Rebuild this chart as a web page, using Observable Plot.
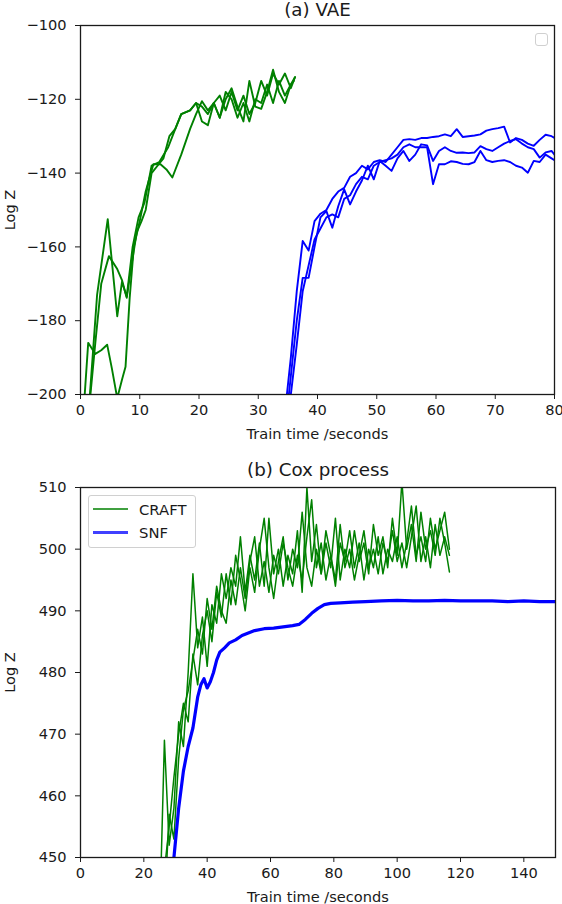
<!DOCTYPE html>
<html>
<head>
<meta charset="utf-8">
<script src="https://cdn.jsdelivr.net/npm/d3@7"></script>
<script src="https://cdn.jsdelivr.net/npm/@observablehq/plot@0.6"></script>
<style>
  body { margin: 0; background: #fff; font-family: "DejaVu Sans", sans-serif; }
  #wrap { position: relative; width: 562px; height: 904px; overflow: hidden; background: #fff; }
  #wrap svg { display: block; }
  .leg { position: absolute; box-sizing: border-box; border: 1px solid #d0d0d0; border-radius: 3px; background: rgba(255,255,255,0.85); }
  .row { position: absolute; left: 0; height: 20px; display: flex; align-items: center; }
  .sw { display: inline-block; width: 35px; margin-left: 4px; margin-right: 11px; }
  .lt { font-family: "DejaVu Sans", sans-serif; font-size: 14.8px; color: #1a1a1a; }
</style>
</head>
<body>
<div id="wrap"></div>
<script>
// ---------- (a) VAE ----------
const vaeXTicks = [0, 10, 20, 30, 40, 50, 60, 70, 80];
const vaeYTicks = [-200, -180, -160, -140, -120, -100];

const vaeCraft1X = [1.5, 2.8, 4.6, 6.2, 7.0, 7.8, 8.8, 9.8, 10.8, 12.0, 13.3, 14.8, 16.0, 17.0, 18.5, 19.5, 20.5, 21.5, 22.5, 23.5, 24.5, 25.5, 26.5, 27.5, 28.5, 29.5, 30.5, 31.5, 32.5, 33.5, 34.5, 35.5, 36.2];
const vaeCraft1Y = [-202, -173, -152.5, -178.8, -169.5, -173.5, -160, -152, -148, -138, -137, -133, -128, -124, -123, -121, -122, -124, -121, -119, -123, -118, -123, -119, -124, -121, -115, -119, -113, -116, -113, -117, -114];

const vaeCraft2X = [0.5, 1.3, 2.5, 3.5, 4.5, 5.3, 6.2, 7.0, 7.6, 8.3, 9.0, 10.0, 11.0, 12.3, 13.5, 14.5, 15.5, 17.0, 18.5, 19.5, 20.5, 21.5, 22.5, 23.5, 24.5, 25.5, 26.5, 27.5, 28.5, 29.5, 30.5, 31.5, 32.5, 33.5, 34.5, 35.5, 36.2];
const vaeCraft2Y = [-205, -186, -189, -188, -186.5, -193, -201, -196, -192.5, -173.8, -160, -153, -145, -137.6, -137.6, -139, -141.2, -135, -128, -124, -120.5, -123, -121, -125, -118, -120, -125, -121, -126, -120, -121, -116, -121, -115, -119, -116, -114];

const vaeCraft3X = [1.5, 2.5, 3.5, 4.8, 6.2, 7.0, 7.8, 8.6, 9.5, 10.3, 11.0, 12.0, 13.0, 14.0, 15.0, 16.0, 17.0, 18.5, 19.5, 20.5, 21.5, 22.5, 23.5, 24.5, 25.5, 26.5, 27.5, 28.5, 29.5, 30.5, 31.5, 32.5, 33.5, 34.5, 35.5, 36.0];
const vaeCraft3Y = [-203, -186, -170, -162.5, -166, -169, -173.8, -165, -156, -153, -150, -140, -138, -136, -130, -128, -124, -123, -121, -126, -127, -121, -125, -120, -117, -122, -126, -115, -122, -122.6, -118, -112, -118, -121, -116, -115];

const vaeSnfX = [34.5, 35.5, 36.5, 37.5, 38.5, 39.5, 40.5, 41.5, 42.5, 43.5, 44.5, 45.5, 46.5, 47.5, 48.5, 49.5, 50.5, 51.5, 52.5, 53.5, 54.5, 55.5, 56.5, 57.5, 58.5, 59.5, 60.5, 61.5, 62.5, 63.5, 64.5, 65.5, 66.5, 67.5, 68.5, 69.5, 70.5, 71.5, 72.5, 73.5, 74.5, 75.5, 76.5, 77.5, 78.5, 79.5, 80];
const vaeSnf1Y = [-205, -190, -172, -158.4, -161, -153, -151, -150, -147, -145, -144, -141, -140, -138, -139, -137, -136.5, -137, -135, -133, -131, -130.8, -131, -130.5, -130.5, -130.2, -130, -129.5, -130, -128.1, -130.2, -130, -129.8, -129.5, -128.5, -128.1, -127.8, -127.4, -131.7, -130.5, -131, -132, -132.6, -131, -129.6, -130, -130.5];
const vaeSnf2Y = [-210, -195, -180, -168.4, -168.4, -160, -152, -150.3, -154.8, -149, -144.4, -148.5, -145, -142, -138, -141.7, -136.7, -138, -139.4, -136, -134, -136.7, -135, -132.2, -132.5, -136.7, -134, -133, -134, -134.5, -134.4, -134.6, -134.4, -132.7, -133.5, -134, -133, -132, -131.3, -130.8, -132, -133, -133.5, -135.8, -134.4, -134, -135];
const vaeSnf3Y = [-215, -200, -186.5, -172, -165, -158, -155, -152, -151.2, -152, -147, -146, -143, -141, -141.7, -138, -137, -136.5, -136, -135, -133, -132.2, -133, -133, -133, -143, -137.6, -137.6, -136.8, -137, -137.5, -137.6, -137, -134, -136.5, -137, -136.7, -136.5, -137, -138, -138.5, -139.9, -136.7, -137, -135, -136, -136.5];

// ---------- (b) Cox process ----------
const coxXTicks = [0, 20, 40, 60, 80, 100, 120, 140];
const coxYTicks = [450, 460, 470, 480, 490, 500, 510];

const coxCraftT = [25, 26.5, 28, 29.5, 31, 32.5, 34, 35.5, 37, 38.5, 40, 41.5, 43, 44.5, 46, 47.5, 49, 50.5, 52, 53.5, 55, 56.5, 58, 59.5, 61, 62.5, 64, 65.5, 67, 68.5, 70, 71.5, 73, 74.5, 76, 77.5, 79, 80.5, 82, 83.5, 85, 86.5, 88, 89.5, 91, 92.5, 94, 95.5, 97, 98.5, 100, 101.5, 103, 104.5, 106, 107.5, 109, 110.5, 112, 113.5, 115, 116.5];
const coxCraft1 = [440, 469, 452, 458, 472, 468, 480, 496, 484, 489, 481, 491, 488, 496, 492, 497, 494, 502, 493, 499, 495, 501, 494, 505, 496, 500, 494, 499, 496, 503, 493, 510, 498, 504, 496, 501, 497, 505, 495, 500, 497, 503, 498, 501, 496, 504, 499, 502, 497, 505, 499, 511, 500, 504, 498, 506, 500, 503, 499, 505, 501, 496.3];
const coxCraft2 = [435, 448, 455, 463, 470, 475, 472, 483, 478, 486, 490, 485, 493, 489, 496, 491, 499, 495, 490, 497, 493, 500, 505, 497, 492, 498, 502, 495, 500, 497, 506, 497, 494, 500, 496, 503, 499, 494, 501, 498, 503, 497, 501, 495, 500, 497, 502, 496, 500, 498, 502, 497, 501, 507, 499, 502, 498, 505, 500, 503, 506, 500];
const coxCraft3 = [438, 442, 457, 453, 466, 474, 477, 482, 487, 483, 492, 487, 494, 490, 488, 495, 491, 497, 492, 498, 502, 494, 498, 493, 499, 496, 501, 497, 494, 499, 495, 502, 508, 497, 501, 495, 499, 495, 504, 497, 500, 495, 499, 503, 497, 500, 496, 501, 498, 503, 498, 501, 497, 502, 507, 498, 502, 497, 504, 499, 502, 499];

const coxSnfX = [29.5, 31, 32.5, 34, 35.5, 37, 38, 39, 40, 41, 42, 43, 44, 45.5, 47, 49, 51, 53, 55, 58, 61, 64, 67, 69, 71, 73, 75, 77, 79, 82, 86, 90, 95, 100, 105, 110, 115, 120, 125, 130, 135, 140, 145, 150];
const coxSnfY = [450, 458, 464, 468, 471, 476, 478, 479, 477.5, 478.5, 480, 482, 483.3, 484, 484.8, 485.3, 486, 486.4, 486.8, 487.1, 487.2, 487.4, 487.6, 487.8, 488.6, 489.6, 490.4, 491, 491.2, 491.3, 491.4, 491.5, 491.6, 491.7, 491.6, 491.6, 491.7, 491.6, 491.6, 491.6, 491.5, 491.6, 491.5, 491.5];

const GREEN = "#008000";
const BLUE = "#0000ff";
const INK = "#1a1a1a";

function series(xs, ys, run) {
  return xs.map((x, i) => ({x, y: ys[i], run}));
}

const vaeCraft = [
  ...series(vaeCraft1X, vaeCraft1Y, "c1"),
  ...series(vaeCraft2X, vaeCraft2Y, "c2"),
  ...series(vaeCraft3X, vaeCraft3Y, "c3")
];
const vaeSnf = [
  ...series(vaeSnfX, vaeSnf1Y, "s1"),
  ...series(vaeSnfX, vaeSnf2Y, "s2"),
  ...series(vaeSnfX, vaeSnf3Y, "s3")
];
const coxCraft = [
  ...series(coxCraftT, coxCraft1, "c1"),
  ...series(coxCraftT, coxCraft2, "c2"),
  ...series(coxCraftT, coxCraft3, "c3")
];
const coxSnf = series(coxSnfX, coxSnfY, "s1");

const baseStyle = {fontFamily: "DejaVu Sans, sans-serif", fontSize: "14.6px", color: INK, background: "white", overflow: "visible"};

const vaePlot = Plot.plot({
  width: 562, height: 462,
  marginLeft: 80, marginRight: 8, marginTop: 25, marginBottom: 68,
  style: baseStyle,
  x: {domain: [0, 80], label: null},
  y: {domain: [-200, -100], label: null},
  marks: [
    Plot.line(vaeCraft, {x: "x", y: "y", z: "run", stroke: GREEN, strokeWidth: 1.9, clip: true}),
    Plot.line(vaeSnf, {x: "x", y: "y", z: "run", stroke: BLUE, strokeWidth: 1.9, clip: true}),
    Plot.frame({stroke: INK, strokeWidth: 1.3}),
    Plot.axisX({ticks: vaeXTicks, tickSize: 5, tickPadding: 5, label: "Train time /seconds", labelAnchor: "center", labelArrow: "none", labelOffset: 44}),
    Plot.axisY({ticks: vaeYTicks, tickSize: 5, tickPadding: 9, label: "Log Z", labelAnchor: "center", labelArrow: "none", labelOffset: 76}),
    Plot.text(["(a) VAE"], {text: d => d, frameAnchor: "top", lineAnchor: "bottom", dy: -10, fontSize: 18.3, fill: INK})
  ]
});

const coxPlot = Plot.plot({
  width: 562, height: 442,
  marginLeft: 80, marginRight: 7, marginTop: 25, marginBottom: 47,
  style: baseStyle,
  x: {domain: [0, 150], label: null},
  y: {domain: [450, 510], label: null},
  marks: [
    Plot.line(coxCraft, {x: "x", y: "y", z: "run", stroke: GREEN, strokeWidth: 1.5, clip: true}),
    Plot.line(coxSnf, {x: "x", y: "y", z: "run", stroke: BLUE, strokeWidth: 3.2, clip: true}),
    Plot.frame({stroke: INK, strokeWidth: 1.3}),
    Plot.axisX({ticks: coxXTicks, tickSize: 5, tickPadding: 5, label: "Train time /seconds", labelAnchor: "center", labelArrow: "none", labelOffset: 44}),
    Plot.axisY({ticks: coxYTicks, tickSize: 5, tickPadding: 9, label: "Log Z", labelAnchor: "center", labelArrow: "none", labelOffset: 76}),
    Plot.text(["(b) Cox process"], {text: d => d, frameAnchor: "top", lineAnchor: "bottom", dy: -12, fontSize: 18.3, fill: INK})
  ]
});

const wrap = document.getElementById("wrap");
wrap.appendChild(vaePlot);
wrap.appendChild(coxPlot);

// empty legend box of panel (a)
const emptyLeg = document.createElement("div");
emptyLeg.className = "leg";
Object.assign(emptyLeg.style, {left: "535px", top: "33px", width: "13px", height: "13px"});
wrap.appendChild(emptyLeg);

// legend of panel (b)
const legendItems = [
  {label: "CRAFT", color: GREEN, width: 2.2},
  {label: "SNF", color: BLUE, width: 3.6}
];
const leg = document.createElement("div");
leg.className = "leg";
Object.assign(leg.style, {left: "88px", top: "495px", width: "108px", height: "53px"});
legendItems.forEach((it, i) => {
  const row = document.createElement("div");
  row.className = "row";
  row.style.top = (3 + i * 23.5) + "px";
  const sw = document.createElement("span");
  sw.className = "sw";
  sw.style.height = it.width + "px";
  sw.style.background = it.color;
  sw.style.opacity = "0.75";
  const t = document.createElement("span");
  t.className = "lt";
  t.textContent = it.label;
  row.appendChild(sw);
  row.appendChild(t);
  leg.appendChild(row);
});
wrap.appendChild(leg);
</script>
</body>
</html>
